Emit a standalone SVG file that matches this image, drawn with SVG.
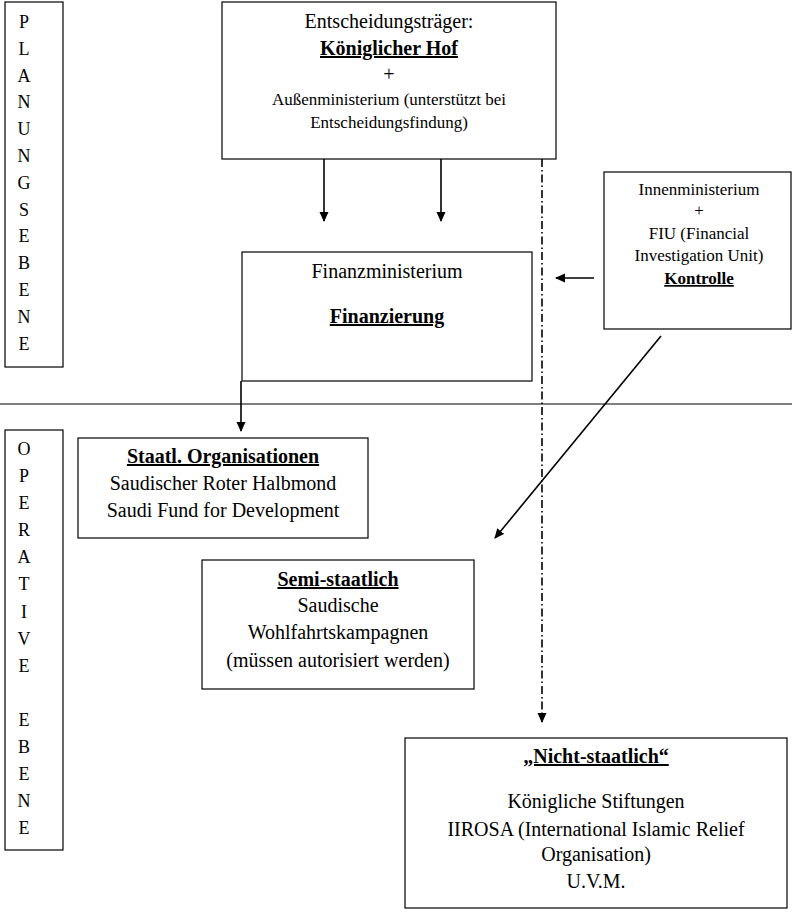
<svg xmlns="http://www.w3.org/2000/svg" width="792" height="914" viewBox="0 0 792 914">
<defs>
<style>
.box{fill:#fff;stroke:#000;stroke-width:1.2}
.t{font-family:"Liberation Serif","Times New Roman",serif;font-size:20px;fill:#000;text-anchor:middle}
.s{font-size:17px}
.b{font-weight:bold;text-decoration:underline}
.lt{font-family:"Liberation Serif","Times New Roman",serif;font-size:18px;fill:#000;text-anchor:middle}
.c{stroke:#000;stroke-width:1.6;fill:none}
</style>
<marker id="ah2" viewBox="0 0 10 10" refX="9" refY="5" markerWidth="10" markerHeight="10" markerUnits="userSpaceOnUse" orient="auto">
<path d="M0,0.5 L10,5 L0,9.5 z" fill="#000"/>
</marker>
</defs>
<rect width="792" height="914" fill="#fff"/>
<line x1="0" y1="404" x2="792" y2="404" stroke="#000" stroke-width="1.2"/>
<g id="planungsebene">
<rect class="box" x="5" y="2" width="58" height="365"/>
<text class="lt">
<tspan x="24" y="28">P</tspan><tspan x="24" y="55">L</tspan><tspan x="24" y="82">A</tspan><tspan x="24" y="108">N</tspan><tspan x="24" y="135">U</tspan><tspan x="24" y="162">N</tspan><tspan x="24" y="189">G</tspan><tspan x="24" y="216">S</tspan><tspan x="24" y="242">E</tspan><tspan x="24" y="269">B</tspan><tspan x="24" y="296">E</tspan><tspan x="24" y="323">N</tspan><tspan x="24" y="350">E</tspan>
</text>
</g>
<g id="operative-ebene">
<rect class="box" x="5" y="430" width="58" height="420"/>
<text class="lt">
<tspan x="24" y="455">O</tspan><tspan x="24" y="482">P</tspan><tspan x="24" y="509">E</tspan><tspan x="24" y="536">R</tspan><tspan x="24" y="563">A</tspan><tspan x="24" y="590">T</tspan><tspan x="24" y="618">I</tspan><tspan x="24" y="645">V</tspan><tspan x="24" y="672">E</tspan><tspan x="24" y="726">E</tspan><tspan x="24" y="753">B</tspan><tspan x="24" y="780">E</tspan><tspan x="24" y="807">N</tspan><tspan x="24" y="834">E</tspan>
</text>
</g>
<g id="entscheidungstraeger">
<rect class="box" x="222" y="2" width="334" height="157"/>
<text class="t" x="389" y="28">Entscheidungsträger:</text>
<text class="t b" x="389" y="55">Königlicher Hof</text>
<text class="t" x="389" y="81">+</text>
<text class="t s" x="389" y="105">Außenministerium (unterstützt bei</text>
<text class="t s" x="389" y="128">Entscheidungsfindung)</text>
</g>
<g id="finanzministerium">
<rect class="box" x="242" y="252" width="290" height="129"/>
<text class="t" x="387" y="278">Finanzministerium</text>
<text class="t b" x="387" y="323">Finanzierung</text>
</g>
<g id="innenministerium">
<rect class="box" x="604" y="172" width="187" height="157"/>
<text class="t s" x="699" y="195">Innenministerium</text>
<text class="t s" x="699" y="216">+</text>
<text class="t s" x="699" y="239">FIU (Financial</text>
<text class="t s" x="699" y="261">Investigation Unit)</text>
<text class="t s b" x="699" y="284">Kontrolle</text>
</g>
<g id="staatl">
<rect class="box" x="78" y="438" width="290" height="100"/>
<text class="t b" x="223" y="463">Staatl. Organisationen</text>
<text class="t" x="223" y="490">Saudischer Roter Halbmond</text>
<text class="t" x="223" y="517">Saudi Fund for Development</text>
</g>
<g id="semi">
<rect class="box" x="202" y="560" width="272" height="129"/>
<text class="t b" x="338" y="586">Semi-staatlich</text>
<text class="t" x="338" y="612">Saudische</text>
<text class="t" x="338" y="639">Wohlfahrtskampagnen</text>
<text class="t" x="338" y="667">(müssen autorisiert werden)</text>
</g>
<g id="nicht-staatlich">
<rect class="box" x="405" y="738" width="382" height="170"/>
<text class="t b" x="596" y="763">„Nicht-staatlich“</text>
<text class="t" x="596" y="808">Königliche Stiftungen</text>
<text class="t" x="596" y="836">IIROSA (International Islamic Relief</text>
<text class="t" x="596" y="861">Organisation)</text>
<text class="t" x="596" y="888">U.V.M.</text>
</g>
<g id="connectors">
<line class="c" x1="324" y1="159" x2="324" y2="221" marker-end="url(#ah2)"/>
<line class="c" x1="441" y1="159" x2="441" y2="221" marker-end="url(#ah2)"/>
<line class="c" x1="594" y1="278" x2="556" y2="278" marker-end="url(#ah2)"/>
<line class="c" x1="241" y1="381" x2="241" y2="431" marker-end="url(#ah2)"/>
<line class="c" x1="661" y1="336" x2="495" y2="538" marker-end="url(#ah2)"/>
<line class="c" x1="542" y1="159" x2="542" y2="722" stroke-dasharray="8,3,1.5,3" marker-end="url(#ah2)"/>
</g>
</svg>
